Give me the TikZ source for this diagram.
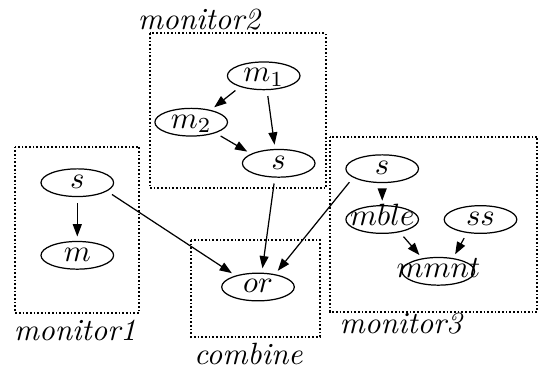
\documentclass[tikz,border=0pt]{standalone}
\usepackage{tikz}
\usetikzlibrary{shapes.geometric,arrows.meta}

\newcommand{\vtxt}[1]{\smash{\makebox[0pt]{\raisebox{-.45ex}{$#1$}}}}

\tikzset{
  state/.style={ellipse, draw, minimum width=23.6pt, minimum height=9pt, inner sep=0pt},
  cluster/.style={draw, line width=.55pt, dash pattern=on .55pt off .65pt},
  title/.style={font=\itshape},
  flow/.style={-{Triangle[length=4pt,width=2.9pt]}, shorten <=1.9pt, shorten >=1.4pt},
}

\begin{document}
\begin{tikzpicture}[x=0.325pt,y=-0.325pt]
  \useasboundingbox (0,0) rectangle (540,367);
  % clusters
  \draw[cluster] (15,146.7) rectangle (139.3,312.7);
  \draw[cluster] (150,33.3) rectangle (325.7,188.3);
  \draw[cluster] (191,240) rectangle (320,336.7);
  \draw[cluster] (330,136.7) rectangle (537.3,311.7);
  \node[title] (lab1) at (75,330.8) {monitor1};
  \node[title] (lab2) at (199,19.2) {monitor2};
  \node[title] (lab3) at (400.8,324) {monitor3};
  \node[title] (labc) at (248.3,354) {combine};
  % monitor1
  \node[state] (m1s) at (77.3,182.7) {\vtxt{s}};
  \node[state] (m1m) at (77.3,255.3) {\vtxt{m}};
  % monitor2
  \node[state] (m21) at (263.7,75.8) {\vtxt{m_1}};
  \node[state] (m22) at (191.2,122.2) {\vtxt{m_2}};
  \node[state] (m2s) at (278.7,163.3) {\vtxt{s}};
  % combine
  \node[state] (or) at (258,287) {\vtxt{or}};
  % monitor3
  \node[state] (m3s) at (382.2,168.7) {\vtxt{s}};
  \node[state] (mble) at (382.2,219.5) {\vtxt{mble}};
  \node[state] (ss) at (480.5,219.5) {\vtxt{ss}};
  \node[state] (mmnt) at (438.3,271.3) {\vtxt{mmnt}};
  % edges
  \draw[flow] (m1s) -- (m1m);
  \draw[flow] (m21.205) -- (m22.32);
  \draw[flow] (m21.283) -- (m2s.104);
  \draw[flow] (m22.-24) -- (m2s.161);
  \draw[flow] (m1s.-16) -- (or.153);
  \draw[flow] (m2s.255) -- (or.75);
  \draw[flow] (m3s.197) -- (or.37);
  \draw[flow] (m3s) -- (mble);
  \draw[flow] (mble.-36) -- (mmnt.141);
  \draw[flow] (ss.225) -- (mmnt.42);
\end{tikzpicture}
\end{document}
